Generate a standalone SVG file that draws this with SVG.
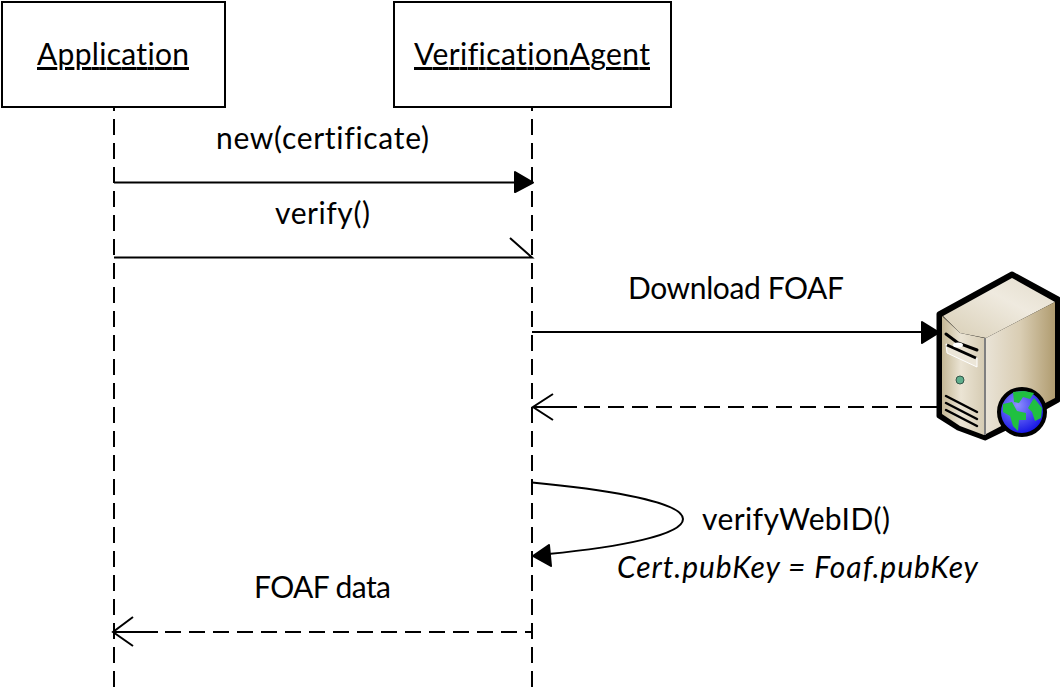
<svg xmlns="http://www.w3.org/2000/svg" width="1060" height="689" viewBox="0 0 1060 689">
<style>
text{font-family:Lato,"Liberation Sans",sans-serif;font-size:30px;fill:#000;font-variant-ligatures:none}
.box{fill:#fff;stroke:#000;stroke-width:2}
.life{fill:none;stroke:#000;stroke-width:2;stroke-dasharray:16 8;stroke-dashoffset:12}
.line{fill:none;stroke:#000;stroke-width:2}
.dash{fill:none;stroke:#000;stroke-width:2;stroke-dasharray:16 8}
.head{fill:#000;stroke:#000;stroke-width:2;stroke-linejoin:round}
</style>
<defs>
<linearGradient id="front" x1="0" y1="0" x2="1" y2="0"><stop offset="0" stop-color="#c4b795"/><stop offset=".45" stop-color="#ebe4d4"/><stop offset="1" stop-color="#d6ccb4"/></linearGradient>
<linearGradient id="side" x1="0" y1="0" x2="1" y2="0"><stop offset="0" stop-color="#e9e3d6"/><stop offset=".5" stop-color="#d9cdb3"/><stop offset="1" stop-color="#b09c70"/></linearGradient>
<linearGradient id="top" x1="0" y1="1" x2="1" y2="0"><stop offset="0" stop-color="#d8ceb5"/><stop offset=".6" stop-color="#efeadf"/><stop offset="1" stop-color="#e3dccb"/></linearGradient>
<radialGradient id="sea" cx=".4" cy=".35" r=".75"><stop offset="0" stop-color="#8f8fff"/><stop offset="1" stop-color="#0000e0"/></radialGradient>
</defs>
<g id="connectors">
<path class="life" d="M114 107V687"/>
<path class="life" d="M532 107V687"/>
<path class="line" d="M114 182.500H516"/>
<path class="head" d="M515 172L533 182.500L515 192Z"/>
<path class="line" d="M114 257.500H532L510 238"/>
<path class="line" d="M532 332H924"/>
<path class="head" d="M922 322L939 332.500L922 343Z"/>
<path class="line" d="M534 407H577"/>
<path class="dash" d="M584 407H929"/>
<path class="line" d="M929 407H938"/>
<path class="line" d="M553 394L533 407L553 420"/>
<path class="line" d="M532 482.500C590 488 683 500 683 519C683 535 620 547 548 554"/>
<path class="head" d="M549 545L533 556L551 566Z"/>
<path class="line" d="M114 632H158"/>
<path class="dash" d="M165 632H532"/>
<path class="line" d="M133 617L113 632L133 646"/>
</g>
<g id="application">
<rect class="box" x="2" y="2" width="223" height="105"/>
<text x="37" y="65" textLength="152" text-decoration="underline">Application</text>
</g>
<g id="verification-agent">
<rect class="box" x="394" y="2" width="277" height="105"/>
<text x="414" y="65" textLength="236" text-decoration="underline">VerificationAgent</text>
</g>
<g id="label-new"><text x="216" y="149" textLength="213">new(certificate)</text></g>
<g id="label-verify"><text x="275" y="224" textLength="95">verify()</text></g>
<g id="label-download"><text x="628" y="299" textLength="216">Download FOAF</text></g>
<g id="label-verifywebid"><text x="702" y="530" textLength="188">verifyWebID()</text></g>
<g id="label-cert"><text x="617" y="578" textLength="361" font-style="italic">Cert.pubKey = Foaf.pubKey</text></g>
<g id="label-foaf"><text x="254" y="598" textLength="137">FOAF data</text></g>
<g id="server">
<path d="M939 314L1012 274L1058 299V400L1022 420L985 438L958 428L939 416Z" fill="#000" stroke="#000" stroke-width="5" stroke-linejoin="round"/>
<path d="M943 316L1012 278L1055 302L986 338L960 333Z" fill="url(#top)"/>
<path d="M986 338L1055 302V398L986 434Z" fill="url(#side)"/>
<path d="M942 316L960 333L984 338V435L960 426L942 414Z" fill="url(#front)"/>
<path d="M985 338V435" stroke="#fff" stroke-width="1"/>
<path d="M946 334L958 343L977 350" fill="none" stroke="#000" stroke-width="3" stroke-linecap="round"/>
<path d="M946 344L977 358V367L947 353Z" fill="#ece6d8" stroke="#fff" stroke-width="1"/>
<path d="M947 345L976 358" stroke="#000" stroke-width="3"/>
<ellipse cx="958" cy="345" rx="5" ry="2.500" fill="#fff"/>
<circle cx="960" cy="380" r="4" fill="#5fae8c" stroke="#33574a" stroke-width="1"/>
<path d="M946 396L977 412M946 403L977 419M946 410L977 426" fill="none" stroke="#000" stroke-width="2.500" stroke-linecap="round"/>
<circle cx="1022" cy="412" r="23" fill="url(#sea)" stroke="#000" stroke-width="4"/>
<path d="M1013 392L1024 391L1034 393L1030 399L1023 397L1019 403L1014 402ZM1003 404L1012 402L1017 411L1026 413L1026 420L1019 420L1018 431L1013 426L1010 416L1003 412ZM1034 398L1042 408L1041 418L1035 421L1032 412L1028 408Z" fill="#20c040"/>
</g>
</svg>
